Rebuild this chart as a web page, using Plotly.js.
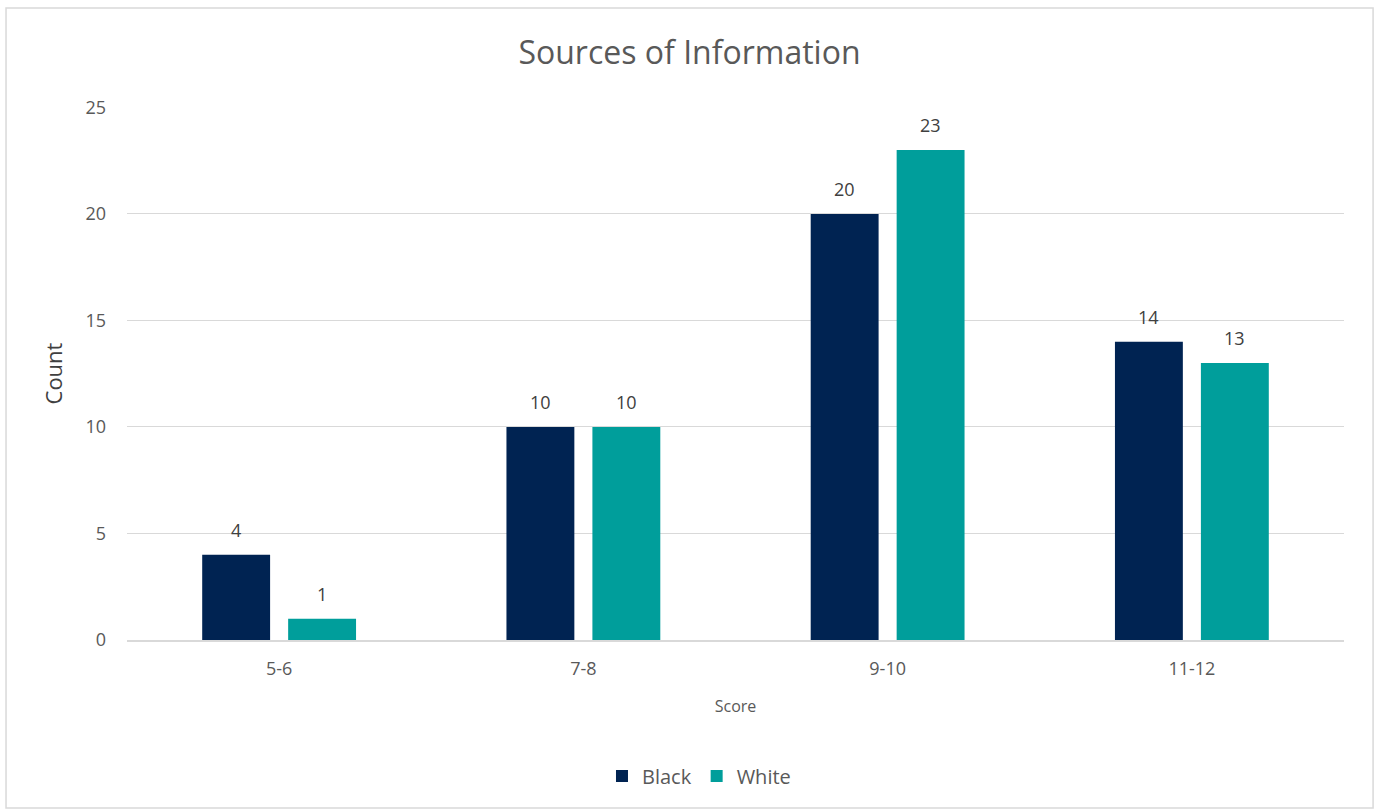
<!DOCTYPE html>
<html>
<head>
<meta charset="utf-8">
<script src="https://cdn.plot.ly/plotly-3.0.1.min.js"></script>
<style>html,body{margin:0;padding:0;background:#fff;}#chart{width:1379px;height:810px;}</style>
</head>
<body>
<div id="chart"></div>
<script>
const categories = ["5-6", "7-8", "9-10", "11-12"];
const blackCounts = [4, 10, 20, 14];
const whiteCounts = [1, 10, 23, 13];
const seriesNames = ["Black", "White"];
const yTicks = [0, 5, 10, 15, 20, 25];

const font = "Open Sans, Noto Sans, Liberation Sans, sans-serif";
const textColor = "#595959";
const colors = ["#002352", "#009E9B"];

const traces = [
  {type: "bar", name: seriesNames[0], x: categories, y: blackCounts, marker: {color: colors[0]}, hoverinfo: "x+y"},
  {type: "bar", name: seriesNames[1], x: categories, y: whiteCounts, marker: {color: colors[1]}, hoverinfo: "x+y"}
];

const annotations = [];
[blackCounts, whiteCounts].forEach((vals, si) => {
  vals.forEach((v, i) => {
    annotations.push({x: categories[i], y: v, xref: "x", yref: "y", text: String(v), showarrow: false,
      xshift: si === 0 ? -43 : 43, yshift: 25, font: {size: 18, color: "#404040", family: font}});
  });
});

const layout = {
  width: 1379, height: 810,
  margin: {l: 127, r: 35, t: 107, b: 170},
  paper_bgcolor: "#fff", plot_bgcolor: "#fff",
  font: {family: font, color: textColor},
  title: {text: "Sources of Information", font: {size: 32, color: textColor, family: font}, x: 0.5, xanchor: "center", y: 0.935, yanchor: "middle"},
  barmode: "group", bargap: 0.435, bargroupgap: 0.21,
  xaxis: {type: "category", title: {text: "Score", font: {size: 16, color: textColor}, standoff: 22}, tickfont: {size: 18, color: textColor},
          showline: true, linecolor: "#d9d9d9", linewidth: 2, ticks: "", showgrid: false, ticklen: 0, ticklabelstandoff: 11},
  yaxis: {title: {text: "Count", font: {size: 22, color: "#404040"}, standoff: 16}, tickfont: {size: 18, color: textColor},
          range: [0, 25.02], tickvals: yTicks, gridcolor: "#d9d9d9", gridwidth: 1, zeroline: false, showline: false, ticks: "", ticklen: 0, ticklabelstandoff: 20},
  legend: {orientation: "h", x: 0.47, xanchor: "center", y: -0.255, yanchor: "middle", font: {size: 20, color: textColor}, itemwidth: 30, tracegroupgap: 0},
  annotations: annotations,
  shapes: [{type: "rect", xref: "paper", yref: "paper", x0: -0.0994, x1: 1.0239, y0: -0.315, y1: 1.1857,
            line: {color: "#d9d9d9", width: 1.5}, fillcolor: "rgba(0,0,0,0)", layer: "below"}]
};

Plotly.newPlot("chart", traces, layout, {displayModeBar: false, staticPlot: true});
</script>
</body>
</html>
